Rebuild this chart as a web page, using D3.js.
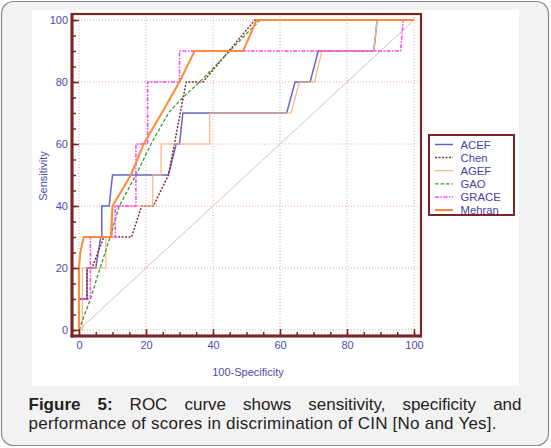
<!DOCTYPE html>
<html><head><meta charset="utf-8">
<script src="https://cdn.jsdelivr.net/npm/d3@7"></script>
<style>html,body{margin:0;padding:0;background:#fff;} svg{display:block}</style>
</head><body>
<svg id="c" width="551" height="448"></svg>
<script>
// ---- data (100-Specificity, Sensitivity) ----
const seriesNames = ["ACEF", "Chen", "AGEF", "GAO", "GRACE", "Mehran"];
const acefX   = [0, 0, 2.4, 2.4, 5, 6.5, 6.8, 6.8, 9, 10, 26.7, 29, 30, 31, 62, 64.5, 69, 71.4, 88, 89, 100];
const acefY   = [0, 10, 10, 20, 20, 30, 30, 40, 40, 50, 50, 60, 60, 70, 70, 80, 80, 90, 90, 100, 100];
const chenX   = [0, 0, 2.4, 2.4, 3.9, 7.4, 15.7, 18.7, 22.2, 26.7, 32, 37, 52.5, 100];
const chenY   = [0, 10, 10, 20, 20, 30, 30, 40, 40, 50, 80, 80, 100, 100];
const agefX   = [0, 1, 1, 8, 8, 10, 10, 22, 22, 24.5, 24.5, 39, 39, 63.3, 65.8, 70.3, 72.5, 88, 89, 100];
const agefY   = [0, 0, 20, 20, 30, 30, 40, 40, 50, 50, 60, 60, 70, 70, 80, 80, 90, 90, 100, 100];
const gaoX    = [0, 3.4, 6.3, 9.3, 12, 17, 21.5, 26.7, 31, 36, 45, 54, 100];
const gaoY    = [0, 10, 20, 30, 40, 50, 60, 70, 75, 80, 90, 100, 100];
const graceX  = [0, 0, 3.4, 3.4, 10.8, 10.8, 17, 17, 20.5, 20.5, 30, 30, 96, 96.8, 100];
const graceY  = [0, 10, 10, 30, 30, 40, 40, 60, 60, 80, 80, 90, 90, 100, 100];
const mehranX = [0, 0, 0.4, 1.4, 9.5, 10, 15.5, 19.3, 24.7, 30, 34.5, 49, 53, 100];
const mehranY = [0, 20, 25, 30, 30, 40, 50, 60, 70, 80, 90, 90, 100, 100];
const xTicks = [0, 20, 40, 60, 80, 100];
const yTicks = [0, 20, 40, 60, 80, 100];
const xTitle = "100-Specificity";
const yTitle = "Sensitivity";
const captionBold = ["Figure", "5:"];
const captionLine1 = ["ROC", "curve", "shows", "sensitivity,", "specificity", "and"];
const captionLine2 = "performance of scores in discrimination of CIN [No and Yes].";

// ---- styles ----
const seriesStyle = {
  ACEF:   {color: "#6666c8", width: 1.5, dash: null},
  Chen:   {color: "#8b2d2d", width: 1.5, dash: "2,1.5"},
  AGEF:   {color: "#ffb280", width: 1.2, dash: null},
  GAO:    {color: "#3a9a3a", width: 1.3, dash: "3.5,2"},
  GRACE:  {color: "#ff40ff", width: 1.5, dash: "4,1.5,1.5,1.5"},
  Mehran: {color: "#ff8a3a", width: 2, dash: null}
};
const seriesData = {
  ACEF: [acefX, acefY], Chen: [chenX, chenY], AGEF: [agefX, agefY],
  GAO: [gaoX, gaoY], GRACE: [graceX, graceY], Mehran: [mehranX, mehranY]
};

const svg = d3.select("#c");
const frameCol = "#7a2626";
const labelCol = "#4c4ca8";

// card
svg.append("rect").attr("x", 1.5).attr("y", 1.5).attr("width", 547).attr("height", 444)
  .attr("rx", 12).attr("fill", "#f2f2f2").attr("stroke", "#8a8a8a").attr("stroke-width", 1.2);
svg.append("rect").attr("x", 32).attr("y", 10).attr("width", 487).attr("height", 376).attr("fill", "#fff");

const x = d3.scaleLinear().domain([0, 100]).range([79, 414]);
const y = d3.scaleLinear().domain([0, 100]).range([330, 20]);
const L = 72, R = 421, T = 14, B = 336;

// grid
const g = svg.append("g");
g.selectAll(".gx").data(xTicks).join("line")
  .attr("x1", d => x(d)).attr("x2", d => x(d)).attr("y1", T).attr("y2", B)
  .attr("stroke", "#e4a8a8").attr("stroke-width", 1).attr("stroke-dasharray", "1,2");
g.selectAll(".gy").data(yTicks).join("line")
  .attr("y1", d => y(d)).attr("y2", d => y(d)).attr("x1", L).attr("x2", R)
  .attr("stroke", "#e4a8a8").attr("stroke-width", 1).attr("stroke-dasharray", "1,2");

// diagonal
svg.append("line").attr("x1", x(0)).attr("y1", y(0)).attr("x2", x(100)).attr("y2", y(100))
  .attr("stroke", "#e2bcb6").attr("stroke-width", 1);

// series
const line = d3.line().x(d => x(d[0])).y(d => y(d[1]));
seriesNames.forEach(n => {
  const [xs, ys] = seriesData[n];
  const pts = xs.map((v, i) => [v, ys[i]]);
  const s = seriesStyle[n];
  svg.append("path").datum(pts).attr("d", line).attr("fill", "none")
    .attr("stroke", s.color).attr("stroke-width", s.width)
    .attr("stroke-dasharray", s.dash);
});

// frame
svg.append("rect").attr("x", L).attr("y", T).attr("width", R - L).attr("height", B - T)
  .attr("fill", "none").attr("stroke", frameCol).attr("stroke-width", 2.2);
svg.append("line").attr("x1", L).attr("x2", L).attr("y1", T - 1).attr("y2", B + 1.5)
  .attr("stroke", frameCol).attr("stroke-width", 3);
svg.append("line").attr("x1", L - 1.5).attr("x2", R + 1).attr("y1", B).attr("y2", B)
  .attr("stroke", frameCol).attr("stroke-width", 3);

// axes
function styleAxis(sel) {
  sel.select(".domain").remove();
  sel.selectAll(".tick line").attr("stroke", frameCol).attr("stroke-width", 1.5);
  sel.selectAll(".tick text").attr("fill", labelCol).attr("font-size", 11)
    .attr("font-family", "Liberation Sans, Arial, sans-serif");
}
const minor = d3.range(0, 101, 5);
svg.append("g").attr("transform", `translate(${L},0)`)
  .call(d3.axisLeft(y).tickValues(minor).tickSize(-4).tickFormat(""))
  .call(styleAxis);
svg.append("g").attr("transform", `translate(0,${B})`)
  .call(d3.axisBottom(x).tickValues(minor).tickSize(-4).tickFormat(""))
  .call(styleAxis);
svg.append("g").attr("transform", `translate(${L},0)`)
  .call(d3.axisLeft(y).tickValues(yTicks).tickSize(-7).tickPadding(4))
  .call(styleAxis);
svg.append("g").attr("transform", `translate(0,${B})`)
  .call(d3.axisBottom(x).tickValues(xTicks).tickSize(-7).tickPadding(5))
  .call(styleAxis);

// titles
svg.append("text").attr("x", 248).attr("y", 376).attr("text-anchor", "middle")
  .attr("fill", labelCol).attr("font-size", 11).attr("font-family", "Liberation Sans, Arial, sans-serif")
  .text(xTitle);
svg.append("text").attr("transform", "translate(47,176) rotate(-90)").attr("text-anchor", "middle")
  .attr("fill", labelCol).attr("font-size", 11).attr("font-family", "Liberation Sans, Arial, sans-serif")
  .text(yTitle);

// legend
const lg = svg.append("g");
const legY = d3.scaleLinear().domain([0, 5]).range([144.5, 210]);
seriesNames.forEach((n, i) => {
  const s = seriesStyle[n];
  lg.append("line").attr("x1", 435).attr("x2", 453).attr("y1", legY(i)).attr("y2", legY(i))
    .attr("stroke", s.color).attr("stroke-width", s.width).attr("stroke-dasharray", s.dash);
  lg.append("text").attr("x", 460.5).attr("y", legY(i) + 4).attr("fill", "#4444aa")
    .attr("font-size", 11.3).attr("font-family", "Liberation Sans, Arial, sans-serif").text(n);
});
lg.append("rect").attr("x", 429).attr("y", 135).attr("width", 85).attr("height", 80)
  .attr("fill", "none").attr("stroke", frameCol).attr("stroke-width", 2);

// caption
const capFont = "Liberation Sans, Arial, sans-serif";
const capX0 = 28.5, capX1 = 521.5;
const cg = svg.append("g");
const words = captionBold.map(w => ({w, b: true})).concat(captionLine1.map(w => ({w, b: false})));
const nodes = words.map(o => cg.append("text").attr("y", 410).attr("font-size", 17)
  .attr("font-family", capFont).attr("font-weight", o.b ? "bold" : "normal")
  .attr("fill", "#222").text(o.w));
const widths = nodes.map(t => t.node().getComputedTextLength());
const gap = (capX1 - capX0 - d3.sum(widths)) / (words.length - 1);
let cx = capX0;
nodes.forEach((t, i) => { t.attr("x", cx); cx += widths[i] + gap; });
cg.append("text").attr("x", capX0).attr("y", 429).attr("font-size", 17)
  .attr("font-family", capFont).attr("fill", "#222")
  .attr("textLength", 468).attr("lengthAdjust", "spacing").text(captionLine2);
</script>
</body></html>
